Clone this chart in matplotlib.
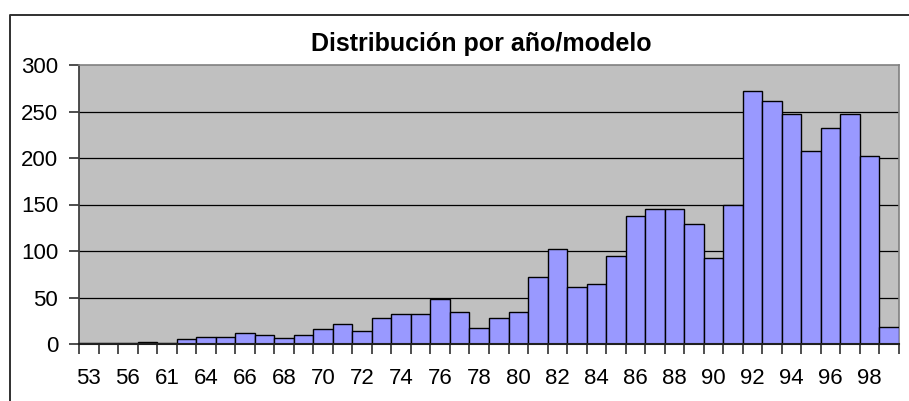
import matplotlib
matplotlib.use("Agg")
import matplotlib.pyplot as plt
from matplotlib.lines import Line2D
import numpy as np

plt.rcParams['font.family'] = ['Liberation Sans', 'DejaVu Sans']

# model years (one bar each) and counts
years = ['53', '55', '56', '58', '61', '63', '64', '65', '66', '67', '68', '69',
         '70', '71', '72', '73', '74', '75', '76', '77', '78', '79', '80', '81',
         '82', '83', '84', '85', '86', '87', '88', '89', '90', '91', '92', '93',
         '94', '95', '96', '97', '98', '99']
counts = [1, 1, 1, 2, 1, 5, 7, 7, 12, 10, 6, 10,
          16, 22, 14, 28, 32, 32, 48, 34, 17, 28, 34, 72,
          102, 61, 64, 95, 138, 145, 145, 129, 92, 149, 272, 261,
          247, 207, 232, 247, 202, 18]
yticks = [0, 50, 100, 150, 200, 250, 300]

fig = plt.figure(figsize=(9.09, 4.01), dpi=100)
ax = fig.add_axes([79 / 909, 57 / 401, 820 / 909, 279 / 401])

x = np.arange(len(years))
ax.set_facecolor('#C0C0C0')
ax.bar(x, counts, width=1.0, color='#9999FF', edgecolor='black', linewidth=1.0, zorder=3)

ax.set_xlim(-0.5, len(years) - 0.5)
ax.set_ylim(0, 300)
ax.set_yticks(yticks)
for v in yticks[1:-1]:
    ax.axhline(v, color='black', linewidth=0.9, zorder=1)

# labels on every other bar, tick marks between bars
ax.set_xticks(x[::2])
ax.set_xticklabels(years[::2])
ax.set_xticks(np.arange(len(years) + 1) - 0.5, minor=True)
ax.tick_params(axis='x', which='major', length=0, pad=17, labelsize=16)
ax.tick_params(axis='x', which='minor', length=7, width=1.2, color='#303030')
ax.tick_params(axis='y', length=7, width=1.2, color='#303030', pad=8, labelsize=16)

for s in ['top', 'right']:
    ax.spines[s].set_color('#808080')
    ax.spines[s].set_linewidth(1.2)
ax.spines['left'].set_color('#404040')
ax.spines['left'].set_linewidth(1.3)
ax.spines['bottom'].set_color('#202020')
ax.spines['bottom'].set_linewidth(1.5)
ax.spines['bottom'].set_zorder(5)

fig.text(481 / 909, 1 - 44.5 / 401, 'Distribución por año/modelo', ha='center', va='center',
         fontsize=18, fontweight='bold')

# outer chart border (cropped on right and bottom)
bx, by = 9.5 / 909, 1 - 15 / 401
fig.lines.append(Line2D([bx, bx, 1.0], [0.0, by, by], transform=fig.transFigure,
                        color='#303030', linewidth=1.4))

fig.savefig('out.png', dpi=100)
